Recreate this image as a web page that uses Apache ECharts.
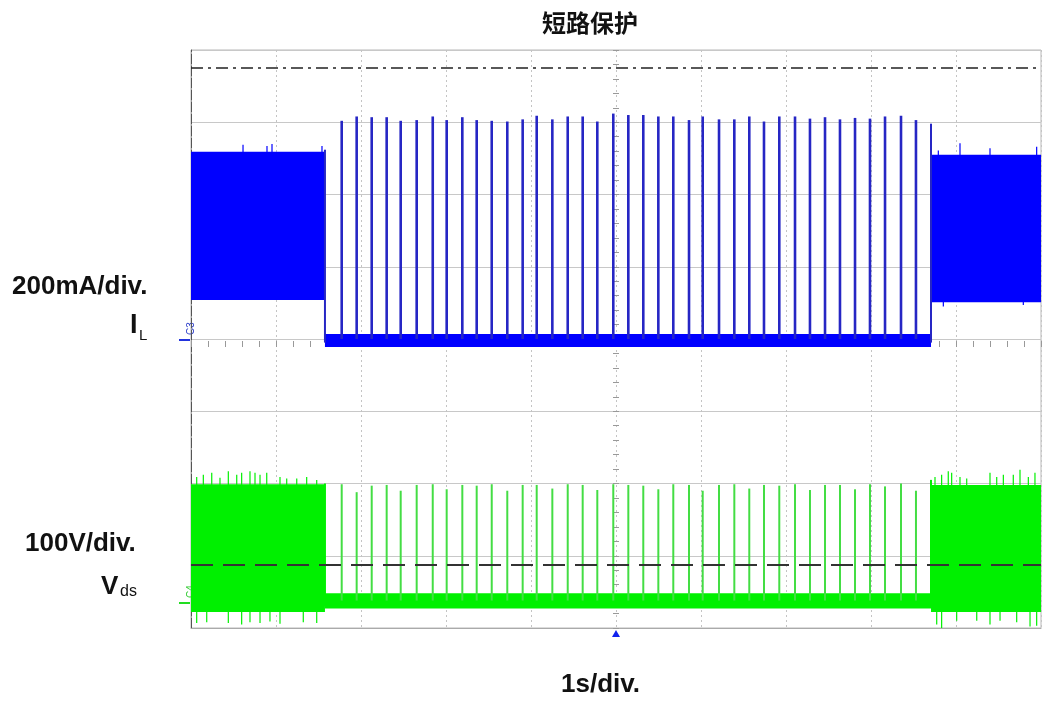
<!DOCTYPE html>
<html>
<head>
<meta charset="utf-8">
<script src="https://cdn.jsdelivr.net/npm/echarts@6/dist/echarts.min.js"></script>
<style>
  html, body { margin: 0; padding: 0; background: #fff; }
  #main { width: 1042px; height: 702px; }
</style>
</head>
<body>
<div id="main"></div>
<script>
// 示波器截图：短路保护，横轴 1s/div，纵轴按格（div）计
var chart = echarts.init(document.getElementById('main'));

// 脉冲时刻 (s)
const pulseTimes = [1.773, 1.949, 2.126, 2.302, 2.467, 2.655, 2.844, 3.008, 3.192, 3.361,
  3.538, 3.721, 3.902, 4.067, 4.251, 4.432, 4.608, 4.780, 4.968, 5.145,
  5.321, 5.498, 5.674, 5.859, 6.020, 6.212, 6.392, 6.568, 6.741, 6.921,
  7.106, 7.282, 7.459, 7.635, 7.812, 7.988, 8.165, 8.353, 8.529];
// IL 脉冲峰值 (div)
const bluePeaks = [7.02, 7.08, 7.07, 7.07, 7.02, 7.03, 7.08, 7.03, 7.07, 7.03,
  7.02, 7.01, 7.04, 7.09, 7.04, 7.08, 7.08, 7.01, 7.12, 7.10,
  7.10, 7.08, 7.08, 7.03, 7.08, 7.04, 7.04, 7.08, 7.01, 7.08,
  7.08, 7.05, 7.07, 7.04, 7.06, 7.05, 7.08, 7.09, 7.03];
// Vds 脉冲峰值 (div)
const greenPeaks = [1.99, 1.88, 1.97, 1.98, 1.90, 1.98, 1.99, 1.92, 1.98, 1.97,
  1.99, 1.90, 1.98, 1.98, 1.93, 1.99, 1.98, 1.91, 1.99, 1.98,
  1.97, 1.92, 1.99, 1.98, 1.90, 1.98, 1.99, 1.93, 1.98, 1.97,
  1.99, 1.91, 1.98, 1.98, 1.92, 1.99, 1.96, 2.00, 1.90];
const blueBase = 4.0;   // C3 零点
const greenBase = 0.38; // C4 故障期间电平

// 噪声带 [t0, t1, 下沿, 上沿]
const blueBands = [[0, 1.576, 4.54, 6.59], [1.576, 8.706, 3.89, 4.07], [8.706, 10, 4.51, 6.55]];
const greenBands = [[0, 1.576, 0.22, 1.99], [1.576, 8.706, 0.27, 0.48], [8.706, 10, 0.22, 1.98]];

// 边沿 [t, 起, 止]
const blueEdges = [[1.576, 3.95, 6.62], [8.706, 3.95, 6.98]];
const greenEdges = [[1.576, 0.3, 2.0], [8.706, 0.3, 2.05]];

// 毛刺 [t, 起, 止]
const blueSpikes = [[0.612, 6.5, 6.69], [0.894, 6.5, 6.67], [0.953, 6.5, 6.70], [1.541, 6.5, 6.67],
  [8.792, 6.5, 6.61], [9.047, 6.5, 6.71], [9.400, 6.5, 6.64], [9.949, 6.5, 6.66],
  [8.851, 4.6, 4.45], [9.792, 4.6, 4.47]];
const greenTop = [[0.067, 2.09], [0.145, 2.12], [0.244, 2.15], [0.341, 2.08], [0.439, 2.17], [0.538, 2.12],
  [0.596, 2.15], [0.694, 2.17], [0.753, 2.15], [0.812, 2.12], [0.891, 2.15], [1.047, 2.09],
  [1.126, 2.07], [1.244, 2.07], [1.361, 2.09], [1.479, 2.05],
  [8.753, 2.09], [8.831, 2.12], [8.909, 2.17], [8.949, 2.15], [9.047, 2.09], [9.126, 2.07],
  [9.400, 2.15], [9.479, 2.09], [9.557, 2.12], [9.674, 2.12], [9.753, 2.19], [9.851, 2.09], [9.929, 2.15]];
const greenBottom = [[0.067, 0.07], [0.185, 0.08], [0.439, 0.07], [0.596, 0.05], [0.694, 0.08], [0.812, 0.07],
  [0.929, 0.09], [1.047, 0.06], [1.321, 0.08], [1.479, 0.07],
  [8.773, 0.05], [8.831, 0.0], [9.008, 0.1], [9.244, 0.1], [9.400, 0.05], [9.518, 0.1],
  [9.714, 0.08], [9.871, 0.02], [9.949, 0.03]];

// 参考线 (div)
const dashDotLevel = 7.765;
const dashLevel = 0.87;

const BLUE = '#0000ff';
const BLUE_PULSE = '#2626c4';
const GREEN = '#00f000';
const GREEN_PULSE = '#44dd44';

function bandRender(color) {
  return function (params, api) {
    var p0 = api.coord([api.value(0), api.value(3)]);
    var p1 = api.coord([api.value(1), api.value(2)]);
    return {
      type: 'rect',
      shape: { x: p0[0], y: p0[1], width: p1[0] - p0[0], height: p1[1] - p0[1] },
      style: { fill: color }
    };
  };
}
function lineRender(color, width) {
  return function (params, api) {
    var a = api.coord([api.value(0), api.value(1)]);
    var b = api.coord([api.value(0), api.value(2)]);
    return {
      type: 'line',
      shape: { x1: a[0], y1: a[1], x2: b[0], y2: b[1] },
      style: { stroke: color, lineWidth: width }
    };
  };
}
function customSeries(data, render, z) {
  return { type: 'custom', data: data, renderItem: render, clip: true, z: z, silent: true,
    encode: { x: 0, y: [1, 2] } };
}

const bluePulseData = pulseTimes.map((t, i) => [t, blueBase, bluePeaks[i]]);
const greenPulseData = pulseTimes.map((t, i) => [t, greenBase, greenPeaks[i]]);
const greenSpikeData = greenTop.map(d => [d[0], 1.9, d[1]]).concat(greenBottom.map(d => [d[0], 0.3, d[1]]));

const textFont = 'Liberation Sans, Arial, sans-serif';

const option = {
  animation: false,
  title: {
    text: '短路保护',
    left: 537,
    top: 6,
    textStyle: { fontFamily: 'Noto Sans CJK SC', fontSize: 24, fontWeight: 'bold', color: '#111' }
  },
  grid: { left: 191, right: 1, top: 50, bottom: 74, show: true, borderColor: '#b8b8b8', borderWidth: 1 },
  xAxis: [
    {
      type: 'value', min: 0, max: 10, interval: 1,
      axisLabel: { show: false }, axisTick: { show: false },
      axisLine: { show: true, lineStyle: { color: '#aaa' } },
      splitLine: { show: true, lineStyle: { color: '#c4c4c4', type: [2, 3] } }
    },
    {
      type: 'value', min: 0, max: 10, interval: 1, position: 'bottom', offset: -291,
      axisLabel: { show: false }, axisLine: { show: false }, splitLine: { show: false },
      axisTick: { show: true, length: 6, lineStyle: { color: '#999' } },
      minorTick: { show: true, splitNumber: 5, length: 6, lineStyle: { color: '#999' } }
    }
  ],
  yAxis: [
    {
      type: 'value', min: 0, max: 8, interval: 1,
      axisLabel: { show: false }, axisTick: { show: false },
      axisLine: { show: true, lineStyle: { color: '#555', type: [10, 2] } },
      splitLine: { show: true, lineStyle: { color: '#c8c8c8' } }
    },
    {
      type: 'value', min: 0, max: 8, interval: 1, position: 'left', offset: -428,
      axisLabel: { show: false }, axisLine: { show: false }, splitLine: { show: false },
      axisTick: { show: true, length: 6, lineStyle: { color: '#999' } },
      minorTick: { show: true, splitNumber: 5, length: 6, lineStyle: { color: '#999' } }
    }
  ],
  series: [
    customSeries(greenBands, bandRender(GREEN), 2),
    customSeries(greenSpikeData, lineRender(GREEN, 1.2), 2),
    customSeries(greenEdges, lineRender(GREEN, 2), 2),
    customSeries(greenPulseData, lineRender(GREEN_PULSE, 2), 3),
    customSeries(blueBands, bandRender(BLUE), 4),
    customSeries(blueSpikes, lineRender(BLUE, 1.2), 4),
    customSeries(blueEdges, lineRender(BLUE_PULSE, 2), 4),
    customSeries(bluePulseData, lineRender(BLUE_PULSE, 2.6), 5),
    {
      type: 'line', data: [], z: 6, silent: true,
      markLine: {
        symbol: 'none', silent: true, label: { show: false },
        data: [
          { yAxis: dashDotLevel, lineStyle: { color: '#222', width: 1.5, type: [12, 5, 3, 5] } },
          { yAxis: dashLevel, lineStyle: { color: '#333', width: 2, type: [22, 10] } }
        ]
      }
    }
  ],
  graphic: [
    { type: 'text', left: 12, top: 274, style: { text: '200mA/div.', font: 'bold 26px ' + textFont, fill: '#111' } },
    { type: 'text', left: 130, top: 312, style: { text: 'I', font: 'bold 27px ' + textFont, fill: '#111' } },
    { type: 'text', left: 139, top: 328, style: { text: 'L', font: '15px ' + textFont, fill: '#111' } },
    { type: 'text', left: 25, top: 531, style: { text: '100V/div.', font: 'bold 26px ' + textFont, fill: '#111' } },
    { type: 'text', left: 101, top: 574, style: { text: 'V', font: 'bold 26px ' + textFont, fill: '#111' } },
    { type: 'text', left: 120, top: 584, style: { text: 'ds', font: '16px ' + textFont, fill: '#111' } },
    { type: 'text', left: 561, top: 672, style: { text: '1s/div.', font: 'bold 26px ' + textFont, fill: '#111' } },
    { type: 'text', x: 186, y: 335, rotation: Math.PI / 2, style: { text: 'C3', font: '10px ' + textFont, fill: '#3344cc' } },
    { type: 'line', shape: { x1: 179, y1: 340, x2: 190, y2: 340 }, style: { stroke: '#2233dd', lineWidth: 2 } },
    { type: 'text', x: 186, y: 598, rotation: Math.PI / 2, style: { text: 'C4', font: '10px ' + textFont, fill: '#33cc33' } },
    { type: 'line', shape: { x1: 179, y1: 603, x2: 190, y2: 603 }, style: { stroke: '#22dd22', lineWidth: 2 } },
    { type: 'polygon', shape: { points: [[616, 630], [612, 637], [620, 637]] }, style: { fill: '#1122ee' } }
  ]
};

chart.setOption(option);
</script>
</body>
</html>
